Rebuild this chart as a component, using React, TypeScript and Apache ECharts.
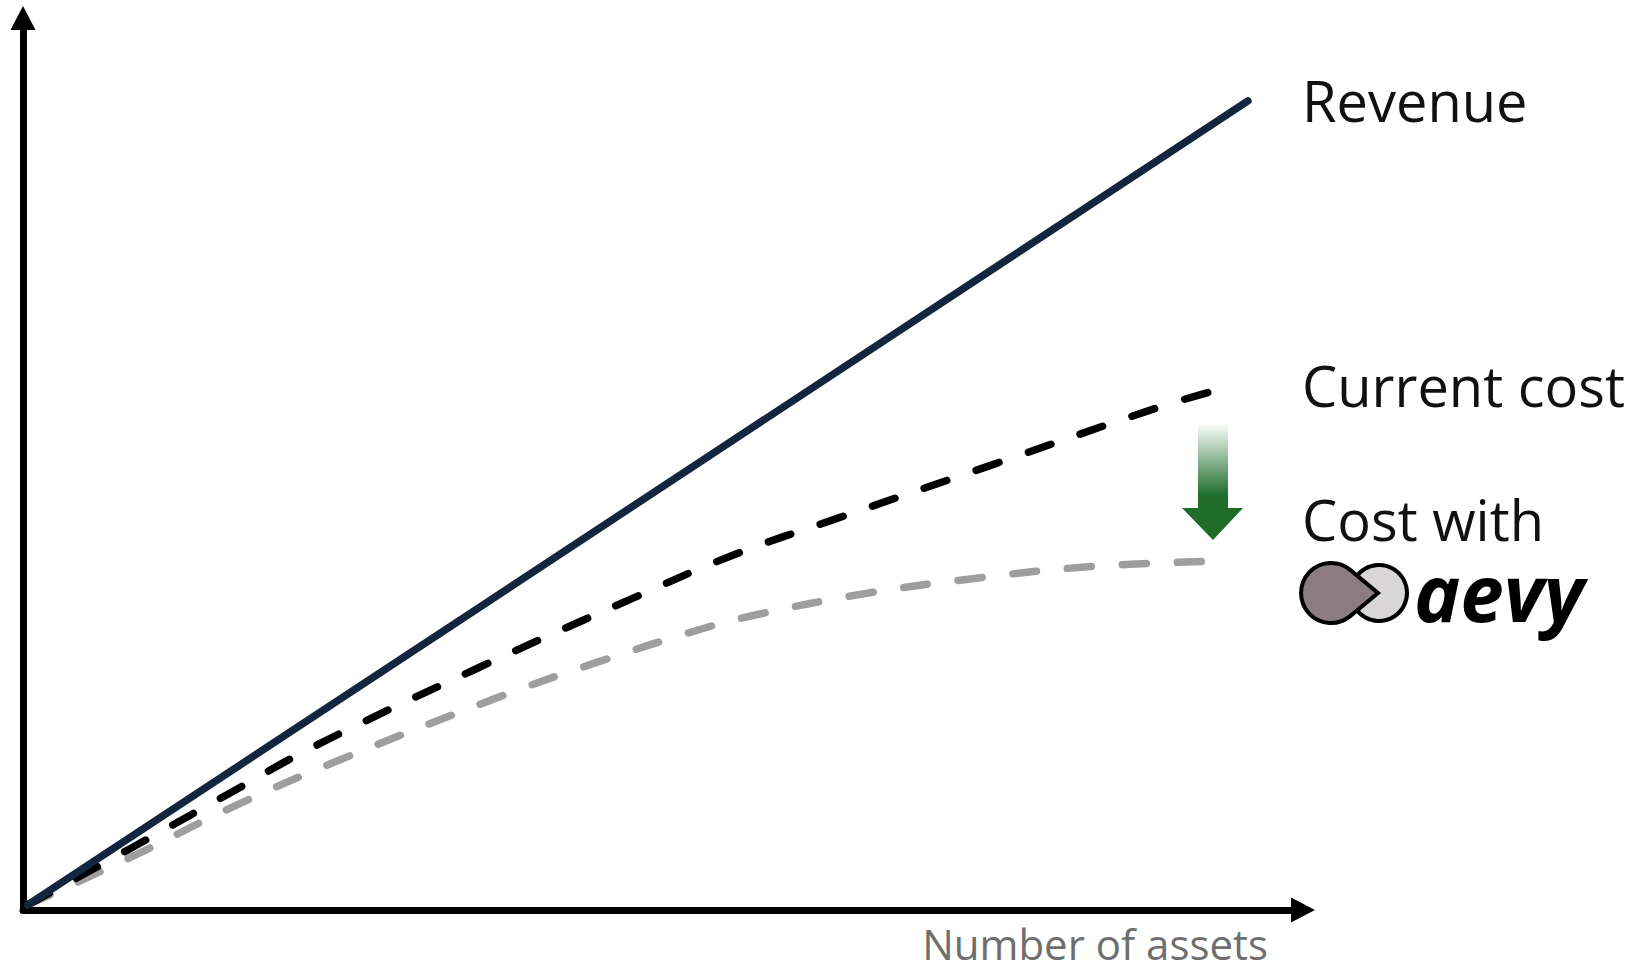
import React, { useEffect, useRef } from "react";
import * as echarts from "echarts";

// ---- data (x: number of assets, y: amount; arbitrary 0..100 units) ----
const SERIES_NAMES = ["Revenue", "Current cost", "Cost with"];
const BRAND = "aevy";
const X_AXIS_NAME = "Number of assets";

const revenue: number[][] = [
  [0.4, 0.6],
  [95.7, 90.7],
];

const currentCost: number[][] = [
  [0.4, 0.6],
  [8.4, 6.9],
  [15.9, 12.9],
  [22.7, 18.3],
  [35.5, 27.1],
  [47.4, 34.8],
  [55.5, 39.8],
  [63.6, 43.9],
  [76.1, 50.1],
  [88.6, 56.3],
  [92.8, 58.1],
];

const costWithAevy: number[][] = [
  [0.4, 0.6],
  [8.4, 5.9],
  [16.3, 11.5],
  [24.2, 16.5],
  [36.5, 23.5],
  [44.7, 27.7],
  [53.0, 31.5],
  [57.3, 33.1],
  [65.9, 35.5],
  [74.5, 37.2],
  [83.4, 38.5],
  [93.1, 39.1],
];

echarts.graphic.registerShape(
  "aevyDrop",
  echarts.graphic.extendPath("M 47 0 L 19.2 -23.1 A 30 30 0 1 0 19.2 23.1 Z", {})
);

const FONT = "'Open Sans', 'Noto Sans', sans-serif";

export default function App() {
  const ref = useRef<HTMLDivElement>(null);

  useEffect(() => {
    if (!ref.current) return;
    const chart = echarts.init(ref.current, undefined, { renderer: "svg" });

    const axisCommon = {
      type: "value" as const,
      min: 0,
      max: 100,
      axisLine: {
        show: true,
        symbol: ["none", "triangle"],
        symbolSize: [25, 24],
        lineStyle: { color: "#000", width: 7 },
      },
      axisTick: { show: false },
      axisLabel: { show: false },
      splitLine: { show: false },
    };

    const labelStyle = {
      fontFamily: FONT,
      fontSize: 56,
      lineHeight: 50,
      fill: "#111",
      align: "left",
      verticalAlign: "middle",
    };

    chart.setOption({
      animation: false,
      backgroundColor: "#fff",
      textStyle: { fontFamily: FONT },
      grid: { left: 23, right: 327, top: 18, bottom: 63, containLabel: false },
      xAxis: { ...axisCommon },
      yAxis: { ...axisCommon },
      series: [
        {
          name: SERIES_NAMES[0],
          type: "line",
          data: revenue,
          symbol: "none",
          lineStyle: { color: "#13263f", width: 7.5, cap: "round" },
          z: 3,
        },
        {
          name: SERIES_NAMES[1],
          type: "line",
          data: currentCost,
          symbol: "none",
          smooth: 0.4,
          lineStyle: { color: "#000", width: 7.5, type: [24, 31], cap: "round" },
          z: 2,
        },
        {
          name: SERIES_NAMES[2],
          type: "line",
          data: costWithAevy,
          symbol: "none",
          smooth: 0.4,
          lineStyle: { color: "#9e9e9e", width: 7.5, type: [24, 31], cap: "round" },
          z: 1,
        },
      ],
      graphic: [
        { type: "text", x: 1302, y: 100, style: { ...labelStyle, text: SERIES_NAMES[0] } },
        { type: "text", x: 1302, y: 385, style: { ...labelStyle, text: SERIES_NAMES[1] } },
        { type: "text", x: 1302, y: 519, style: { ...labelStyle, text: SERIES_NAMES[2] } },
        {
          type: "text",
          x: 1268,
          y: 943,
          style: {
            text: X_AXIS_NAME,
            fontFamily: FONT,
            fontSize: 42,
            lineHeight: 40,
            fill: "#6e6e6e",
            align: "right",
            verticalAlign: "middle",
          },
        },
        {
          type: "polygon",
          shape: {
            points: [
              [1198, 423],
              [1228, 423],
              [1228, 508],
              [1243, 508],
              [1213, 540],
              [1182, 508],
              [1198, 508],
            ],
          },
          style: {
            fill: {
              type: "linear",
              x: 0,
              y: 0,
              x2: 0,
              y2: 1,
              colorStops: [
                { offset: 0, color: "rgba(255,255,255,1)" },
                { offset: 0.62, color: "#1e6e2a" },
                { offset: 1, color: "#1e6e2a" },
              ],
            },
          },
        },
        {
          type: "circle",
          shape: { cx: 1379, cy: 593, r: 28 },
          style: { fill: "#d9d6d7", stroke: "#000", lineWidth: 4 },
        },
        {
          type: "aevyDrop",
          x: 1331,
          y: 593,
          style: { fill: "#8b7c81", stroke: "#000", lineWidth: 4 },
        },
        {
          type: "text",
          x: 1414,
          y: 592,
          style: {
            text: BRAND,
            fontFamily: FONT,
            fontSize: 78,
            lineHeight: 56,
            fontWeight: 700,
            fontStyle: "italic",
            fill: "#000",
            align: "left",
            verticalAlign: "middle",
          },
        },
      ],
    });

    return () => chart.dispose();
  }, []);

  return (
    <div
      ref={ref}
      style={{ position: "absolute", left: 0, top: 0, width: 1630, height: 973 }}
    />
  );
}
